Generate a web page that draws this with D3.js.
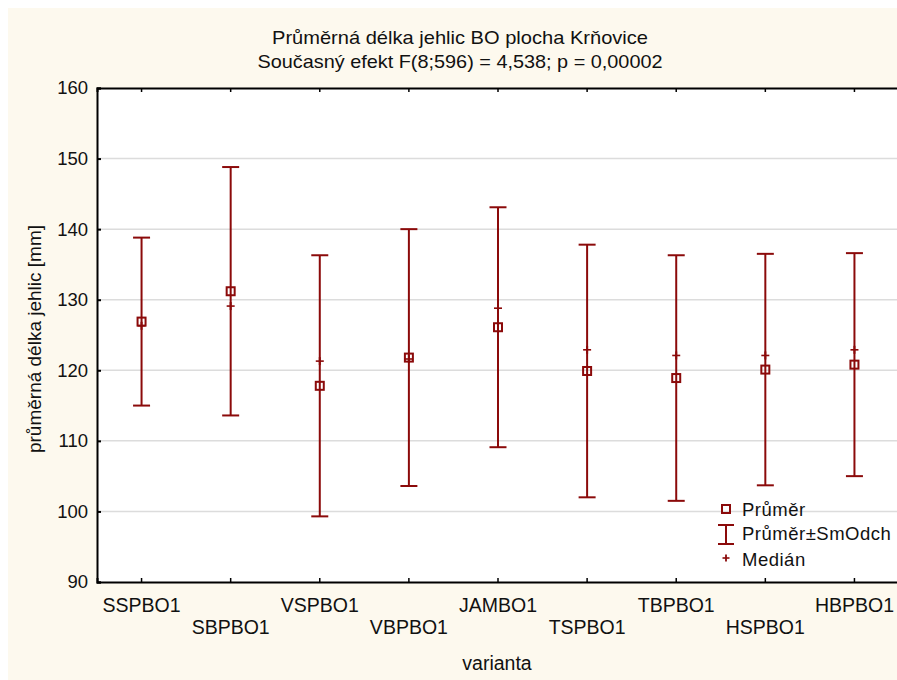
<!DOCTYPE html>
<html>
<head>
<meta charset="utf-8">
<script src="https://cdn.jsdelivr.net/npm/d3@7"></script>
<style>
  html, body { margin: 0; padding: 0; background: #ffffff; }
  svg { display: block; }
  text { font-family: "Liberation Sans", Arial, sans-serif; fill: #111; }
</style>
</head>
<body>
<div id="chart"></div>
<script>
// Variants on the x axis
const categories = ["SSPBO1", "SBPBO1", "VSPBO1", "VBPBO1", "JAMBO1", "TSPBO1", "TBPBO1", "HSPBO1", "HBPBO1"];
// Mean needle length [mm]
const means = [126.9, 131.2, 117.8, 121.8, 126.1, 119.9, 118.9, 120.1, 120.8];
// Standard deviation [mm]
const sds = [11.9, 17.6, 18.5, 18.2, 17.0, 17.9, 17.4, 16.4, 15.8];
// Median needle length [mm]
const medians = [126.3, 129.1, 121.3, 121.6, 128.8, 122.9, 122.1, 122.1, 122.9];
// Y axis ticks
const yTicks = [90, 100, 110, 120, 130, 140, 150, 160];
const legendLabels = ["Průměr", "Průměr±SmOdch", "Medián"];

const W = 897, H = 680;
const red = "#8b0a0a";
const svg = d3.select("#chart").append("svg").attr("width", W).attr("height", H);

// Cream panel
svg.append("rect").attr("x", 8).attr("y", 8).attr("width", W - 8).attr("height", H - 8)
  .attr("fill", "#fdf9ee");

const plot = { left: 97, right: 899, top: 88, bottom: 582 };

const x = d3.scaleBand().domain(categories).range([plot.left, plot.right]).padding(0);
const y = d3.scaleLinear().domain([90, 160]).range([plot.bottom, plot.top]);
const cx = c => x(c) + x.bandwidth() / 2;

// Plot area
svg.append("rect").attr("x", plot.left).attr("y", plot.top)
  .attr("width", plot.right - plot.left).attr("height", plot.bottom - plot.top)
  .attr("fill", "#ffffff");

// Grid lines
svg.append("g").selectAll("line").data(yTicks.filter(t => t > 90 && t < 160)).join("line")
  .attr("x1", plot.left).attr("x2", plot.right)
  .attr("y1", d => y(d)).attr("y2", d => y(d))
  .attr("stroke", "#dcdcdc").attr("stroke-width", 1.5);

// Left axis
const yAxis = d3.axisLeft(y).tickValues(yTicks).tickSize(-4).tickPadding(9).tickFormat(d3.format("d"));
const gy = svg.append("g").attr("transform", `translate(${plot.left},0)`).call(yAxis);
gy.select(".domain").attr("stroke", "#000").attr("stroke-width", 2);
gy.selectAll(".tick line").attr("stroke", "#000").attr("stroke-width", 2);
gy.selectAll(".tick text").attr("font-size", 18.5).attr("font-family", "Liberation Sans, Arial, sans-serif").attr("fill", "#111");

// Bottom axis with staggered labels
const xAxis = d3.axisBottom(x).tickSize(-4).tickPadding(0);
const gx = svg.append("g").attr("transform", `translate(0,${plot.bottom})`).call(xAxis);
gx.select(".domain").attr("stroke", "#000").attr("stroke-width", 2);
gx.selectAll(".tick line").attr("stroke", "#000").attr("stroke-width", 1.5);
gx.selectAll(".tick text")
  .attr("font-size", 19.5).attr("font-family", "Liberation Sans, Arial, sans-serif").attr("fill", "#111")
  .attr("dy", null)
  .attr("y", (d, i) => i % 2 === 0 ? 30 : 52);

// Top frame line with ticks
const xTop = d3.axisTop(x).tickSize(-4).tickFormat("");
const gt = svg.append("g").attr("transform", `translate(0,${plot.top})`).call(xTop);
gt.select(".domain").attr("stroke", "#000").attr("stroke-width", 2);
gt.selectAll(".tick line").attr("stroke", "#000").attr("stroke-width", 1.5);

// Error bars (mean ± SD)
const marks = svg.append("g");
categories.forEach((c, i) => {
  const lo = means[i] - sds[i], hi = means[i] + sds[i];
  const g = marks.append("g").attr("stroke", red).attr("fill", "none");
  g.append("line").attr("x1", cx(c)).attr("x2", cx(c)).attr("y1", y(lo)).attr("y2", y(hi)).attr("stroke-width", 2);
  [lo, hi].forEach(v => g.append("line")
    .attr("x1", cx(c) - 8.5).attr("x2", cx(c) + 8.5).attr("y1", y(v)).attr("y2", y(v)).attr("stroke-width", 2));
  // Median
  g.append("line").attr("x1", cx(c) - 4).attr("x2", cx(c) + 4).attr("y1", y(medians[i])).attr("y2", y(medians[i])).attr("stroke-width", 1.6);
  g.append("line").attr("x1", cx(c)).attr("x2", cx(c)).attr("y1", y(medians[i]) - 4).attr("y2", y(medians[i]) + 4).attr("stroke-width", 2);
  // Mean
  g.append("rect").attr("x", cx(c) - 4).attr("y", y(means[i]) - 4).attr("width", 8).attr("height", 8)
    .attr("stroke-width", 2);
});

// Legend
const lg = svg.append("g");
const lx = 726;
lg.append("rect").attr("x", lx - 4).attr("y", 509 - 4).attr("width", 8).attr("height", 8)
  .attr("fill", "none").attr("stroke", red).attr("stroke-width", 2);
lg.append("line").attr("x1", lx).attr("x2", lx).attr("y1", 525).attr("y2", 544).attr("stroke", red).attr("stroke-width", 2);
lg.append("line").attr("x1", lx - 8).attr("x2", lx + 8).attr("y1", 525).attr("y2", 525).attr("stroke", red).attr("stroke-width", 2);
lg.append("line").attr("x1", lx - 8).attr("x2", lx + 8).attr("y1", 544).attr("y2", 544).attr("stroke", red).attr("stroke-width", 2);
lg.append("line").attr("x1", lx - 3.5).attr("x2", lx + 3.5).attr("y1", 558).attr("y2", 558).attr("stroke", red).attr("stroke-width", 1.6);
lg.append("line").attr("x1", lx).attr("x2", lx).attr("y1", 554.5).attr("y2", 561.5).attr("stroke", red).attr("stroke-width", 1.8);
const legY = [516, 540, 566];
lg.selectAll("text").data(legendLabels).join("text")
  .attr("x", 742).attr("y", (d, i) => legY[i])
  .attr("font-size", 18.5).attr("letter-spacing", 0.5)
  .text(d => d);

// Titles
svg.append("text").attr("x", 460).attr("y", 44).attr("text-anchor", "middle")
  .attr("font-size", 19).attr("textLength", 376).attr("lengthAdjust", "spacingAndGlyphs")
  .text("Průměrná délka jehlic BO plocha Krňovice");
svg.append("text").attr("x", 460).attr("y", 68).attr("text-anchor", "middle")
  .attr("font-size", 19).attr("textLength", 405).attr("lengthAdjust", "spacingAndGlyphs")
  .text("Současný efekt F(8;596) = 4,538; p = 0,00002");

// Axis titles
svg.append("text").attr("transform", "translate(41,339) rotate(-90)").attr("text-anchor", "middle")
  .attr("font-size", 19).text("průměrná délka jehlic [mm]");
svg.append("text").attr("x", 497).attr("y", 670).attr("text-anchor", "middle")
  .attr("font-size", 19.5).text("varianta");
</script>
</body>
</html>
